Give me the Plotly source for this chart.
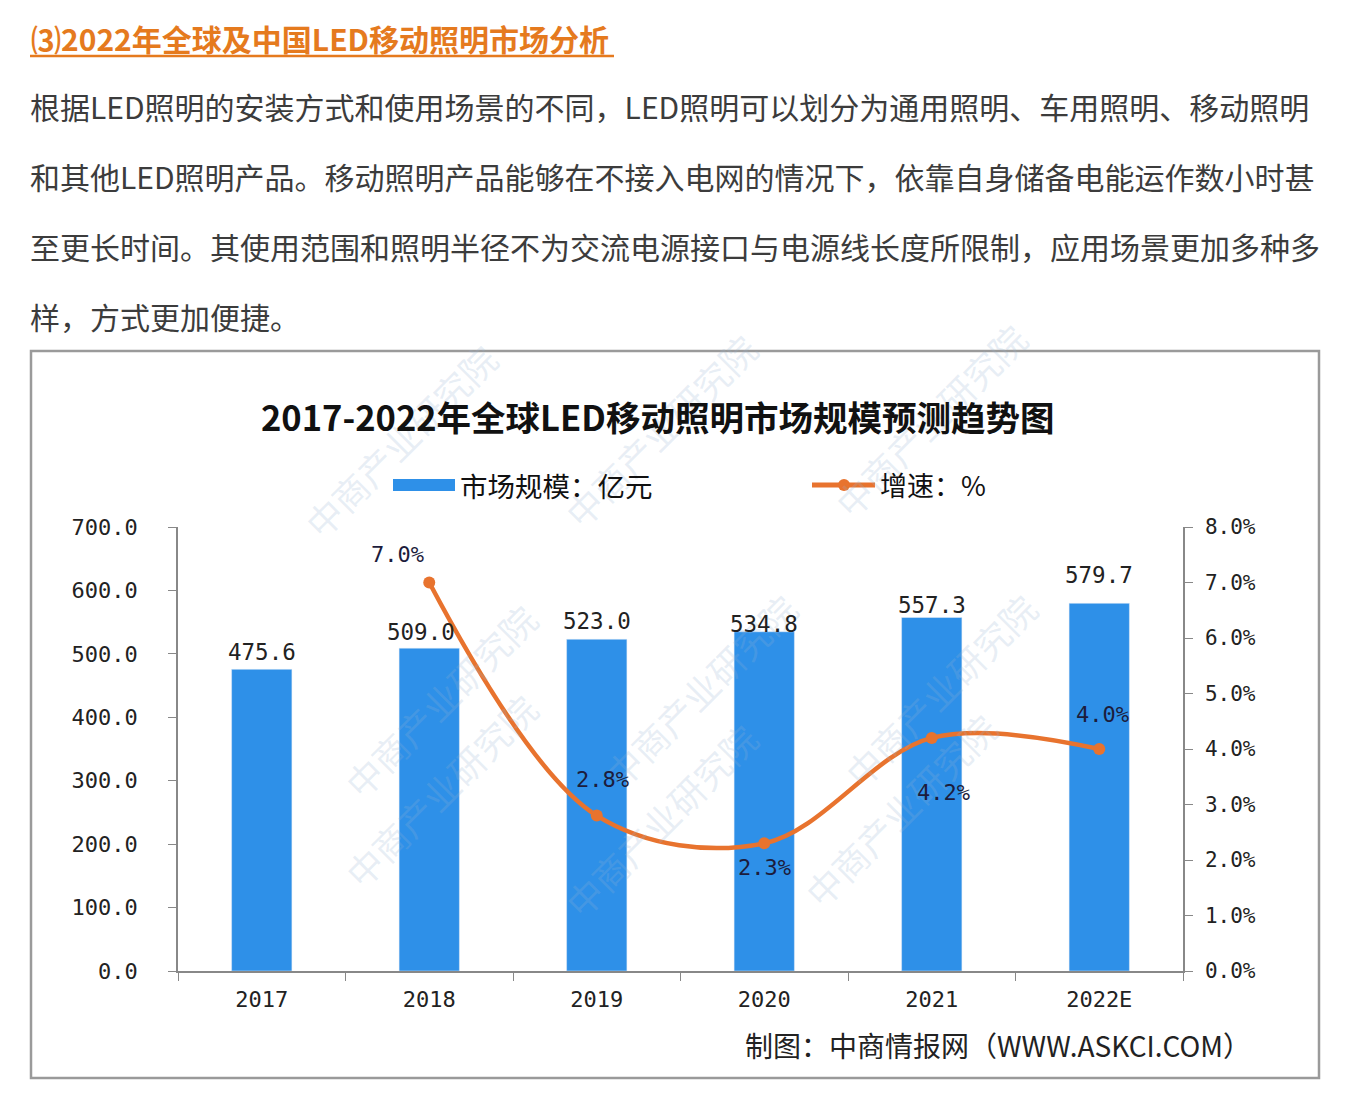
import plotly.graph_objects as go

W, H = 1356, 1119

years = ["2017", "2018", "2019", "2020", "2021", "2022E"]
market_size = [475.6, 509.0, 523.0, 534.8, 557.3, 579.7]
growth_years = ["2018", "2019", "2020", "2021", "2022E"]
growth_rate = [7.0, 2.8, 2.3, 4.2, 4.0]

heading = "⑶2022年全球及中国LED移动照明市场分析"
paragraph_lines = [
    "根据LED照明的安装方式和使用场景的不同，LED照明可以划分为通用照明、车用照明、移动照明",
    "和其他LED照明产品。移动照明产品能够在不接入电网的情况下，依靠自身储备电能运作数小时甚",
    "至更长时间。其使用范围和照明半径不为交流电源接口与电源线长度所限制，应用场景更加多种多",
    "样，方式更加便捷。",
]
chart_title = "2017-2022年全球LED移动照明市场规模预测趋势图"
legend_bar = "市场规模：亿元"
legend_line = "增速：%"
source_text = "制图：中商情报网（WWW.ASKCI.COM）"
watermark = "中商产业研究院"

BLUE = "#2E90E8"
ORANGE = "#E8732E"
CJK = "Noto Sans CJK SC"
MONO = "DejaVu Sans Mono"


def px(x):
    return x / W


def py(y):
    return 1 - y / H


fig = go.Figure()
fig.add_trace(go.Bar(
    x=years, y=market_size, marker_color=BLUE, width=0.36,
    showlegend=False, yaxis="y",
))
fig.add_trace(go.Scatter(
    x=growth_years, y=growth_rate, mode="lines+markers", yaxis="y2",
    line=dict(color=ORANGE, width=4.5, shape="spline", smoothing=1.0),
    marker=dict(color=ORANGE, size=12), showlegend=False,
))

annotations = []
# faint watermarks
for wx, wy in [(290, 440), (660, 430), (1040, 420), (330, 700), (700, 690), (1050, 690),
               (330, 900), (660, 930), (1010, 920)]:
    annotations.append(dict(
        x=px(wx), y=py(wy), xref="paper", yref="paper", text=watermark, showarrow=False,
        textangle=-45, font=dict(family=CJK, size=36, color="rgba(150,180,210,0.22)"),
    ))

# bar value labels
bar_offsets = [(0, 17), (-8, 16), (0, 18), (0, 8), (0, 13), (0, 28)]
for i, (v, (dx, dy)) in enumerate(zip(market_size, bar_offsets)):
    annotations.append(dict(
        x=i, y=v, xref="x", yref="y", text=f"{v:.1f}", showarrow=False,
        yanchor="middle", xshift=dx, yshift=dy,
        font=dict(family=MONO, size=22.5, color="#222"),
    ))

# growth labels (category index positions)
offsets = [(-32, 28), (6, 36), (0, -24), (12, -55), (3, 34)]
for yr, v, (dx, dy) in zip(growth_years, growth_rate, offsets):
    annotations.append(dict(
        x=years.index(yr), y=v, xref="x", yref="y2", text=f"{v:.1f}%", showarrow=False,
        xshift=dx, yshift=dy, font=dict(family=MONO, size=22, color="#1c1c3c"),
    ))

# heading
annotations.append(dict(
    x=px(29), y=py(38), xref="paper", yref="paper", xanchor="left", yanchor="middle",
    text=f"<b>{heading}</b>", showarrow=False,
    font=dict(family=CJK, size=30, color="#E57A1E"),
))
# paragraph
for i, line in enumerate(paragraph_lines):
    annotations.append(dict(
        x=px(28), y=py(106 + 70 * i), xref="paper", yref="paper",
        xanchor="left", yanchor="middle", text=line, showarrow=False,
        font=dict(family=CJK, size=30, color="#3c3c3c"),
    ))
# chart title
annotations.append(dict(
    x=px(657), y=py(416), xref="paper", yref="paper", xanchor="center", yanchor="middle",
    text=f"<b>{chart_title}</b>", showarrow=False,
    font=dict(family=CJK, size=34.5, color="#111"),
))
# legend texts
annotations.append(dict(
    x=px(458), y=py(485), xref="paper", yref="paper", xanchor="left", yanchor="middle",
    text=legend_bar, showarrow=False, font=dict(family=CJK, size=27.5, color="#111"),
))
annotations.append(dict(
    x=px(878), y=py(485), xref="paper", yref="paper", xanchor="left", yanchor="middle",
    text=legend_line, showarrow=False, font=dict(family=CJK, size=27, color="#111"),
))
# source
annotations.append(dict(
    x=px(743), y=py(1045), xref="paper", yref="paper", xanchor="left", yanchor="middle",
    text=source_text, showarrow=False, font=dict(family=CJK, size=28, color="#222"),
))

shapes = [
    dict(type="line", xref="paper", yref="paper", x0=px(30), x1=px(614), y0=py(56), y1=py(56),
         line=dict(color="#E57A1E", width=2.5)),
    dict(type="rect", xref="paper", yref="paper", x0=px(31), x1=px(1319), y0=py(351), y1=py(1078),
         line=dict(color="#9a9a9a", width=2.5), layer="below"),
    dict(type="rect", xref="paper", yref="paper", x0=px(393), x1=px(455), y0=py(479), y1=py(491),
         fillcolor=BLUE, line=dict(width=0)),
    dict(type="line", xref="paper", yref="paper", x0=px(812), x1=px(875), y0=py(485), y1=py(485),
         line=dict(color=ORANGE, width=5)),
    dict(type="circle", xref="paper", yref="paper", x0=px(838), x1=px(850), y0=py(479), y1=py(491),
         fillcolor=ORANGE, line=dict(width=0)),
]

fig.update_layout(
    width=W, height=H, margin=dict(l=0, r=0, t=0, b=0, pad=0, autoexpand=False),
    paper_bgcolor="white", plot_bgcolor="rgba(0,0,0,0)",
    showlegend=False, annotations=annotations, shapes=shapes,
    xaxis=dict(
        domain=[px(178), px(1183)], type="category", range=[-0.5, 5.5], automargin=False,
        showline=True, linecolor="#888", linewidth=1.5, ticks="outside", ticklen=8,
        tickcolor="#888", tickson="boundaries", showgrid=False, ticklabelstandoff=8,
        tickfont=dict(family=MONO, size=22, color="#222"),
    ),
    yaxis=dict(
        domain=[py(971), py(527)], range=[0, 700], dtick=100, tickformat=".1f", automargin=False,
        showline=True, linecolor="#888", linewidth=1.5, ticks="outside", ticklen=8,
        tickcolor="#888", showgrid=False, zeroline=False, ticklabelstandoff=26,
        tickfont=dict(family=MONO, size=22, color="#222"),
    ),
    yaxis2=dict(
        overlaying="y", side="right", range=[0, 8], dtick=1, tickformat=".1f", ticksuffix="%",
        automargin=False,
        showline=True, linecolor="#888", linewidth=1.5, ticks="outside", ticklen=8,
        tickcolor="#888", showgrid=False, zeroline=False, ticklabelstandoff=8,
        tickfont=dict(family=MONO, size=21, color="#222"),
    ),
)

fig.write_html("out.html")
